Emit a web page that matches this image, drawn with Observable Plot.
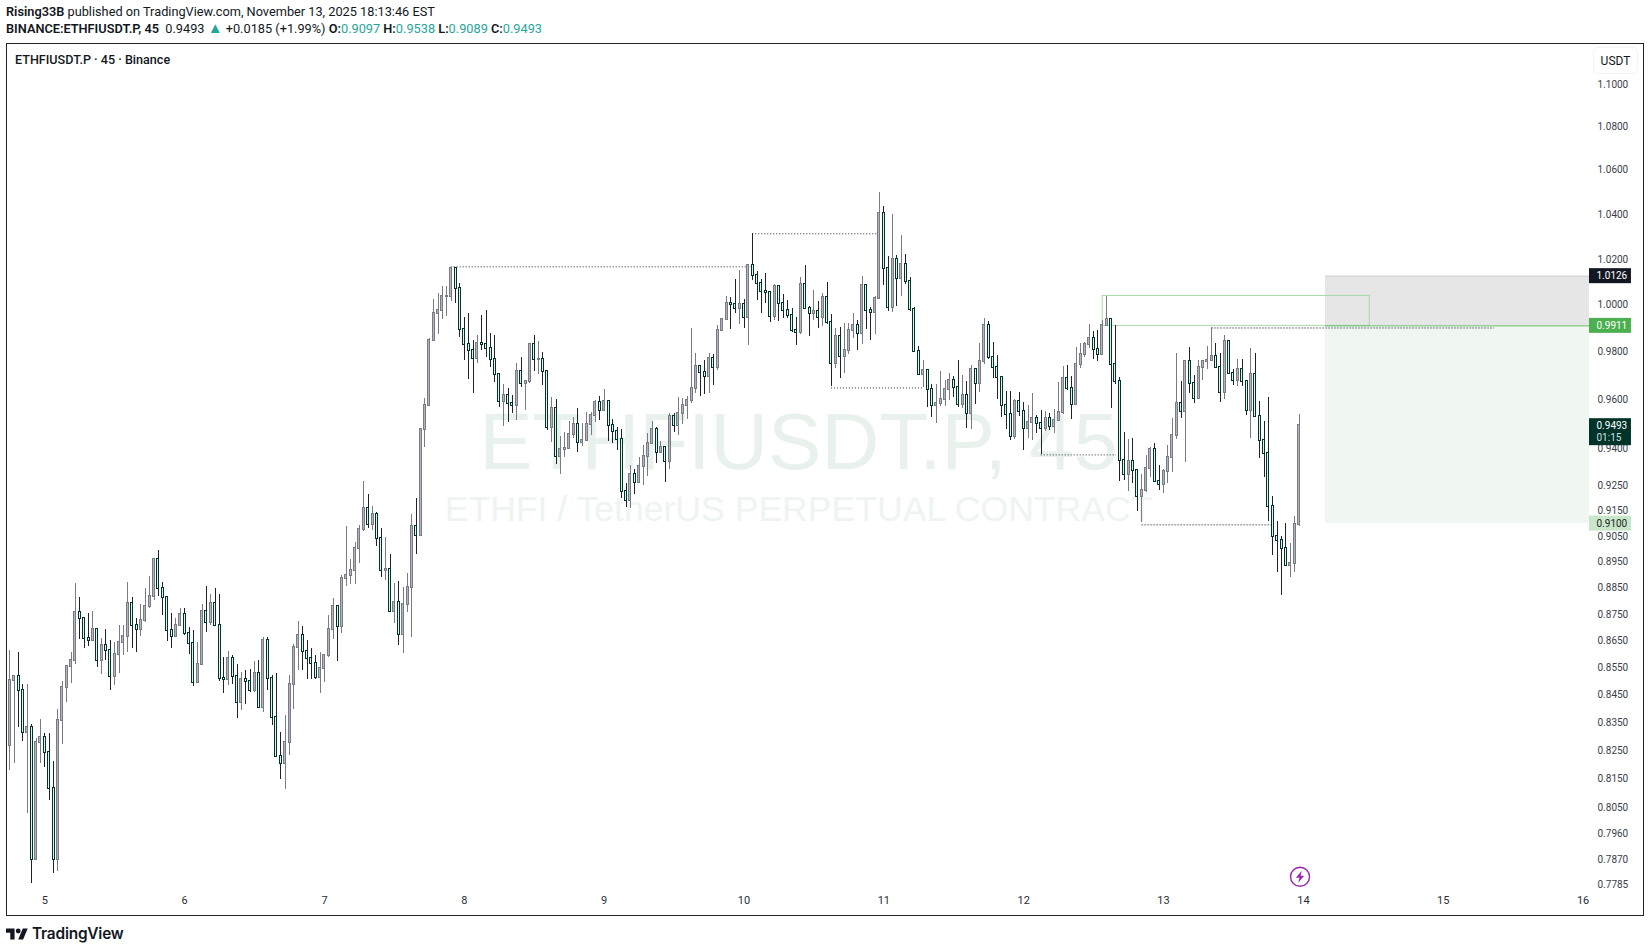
<!DOCTYPE html>
<html>
<head>
<meta charset="utf-8">
<script src="https://cdn.jsdelivr.net/npm/d3@7"></script>
<script src="https://cdn.jsdelivr.net/npm/@observablehq/plot@0.6"></script>
<style>
html,body{margin:0;padding:0;background:#fff;width:1650px;height:952px;overflow:hidden}
body{position:relative;font-family:Roboto,sans-serif;color:#131722}
.hd{position:absolute;left:6px;white-space:pre;font-size:12.75px;line-height:16px}
.hd b{font-weight:600}
.hd i{font-style:normal;color:#26a69a}
.hd u{text-decoration:none;color:#26a69a;font-size:15px;line-height:10px}
#chart{position:absolute;left:0;top:43px}
#frame{position:absolute;left:6px;top:43px;width:1636px;height:871px;border:1px solid #20232c;pointer-events:none}
#legend{position:absolute;left:15px;top:52px;font-size:12.6px;font-weight:500;white-space:pre}
#unit{position:absolute;left:1593px;top:47px;width:45px;height:27px;border:1px solid #f0f3fa;border-radius:5px;box-sizing:border-box;text-align:center;font:12px/26px Roboto,sans-serif;color:#131722;background:#fff}
#logo{position:absolute;left:6px;top:925px;height:17px;display:flex;align-items:center;gap:4px;font:600 15.4px Inter,sans-serif;color:#131722;letter-spacing:-.2px}
</style>
</head>
<body>
<div class="hd" style="top:4px"><b>Rising33B</b> published on TradingView.com, November 13, 2025 18:13:46 EST</div>
<div class="hd" style="top:21px"><b>BINANCE:ETHFIUSDT.P, 45</b>  0.9493 <u>▲</u> +0.0185 (+1.99%) <b>O:</b><i>0.9097</i> <b>H:</b><i>0.9538</i> <b>L:</b><i>0.9089</i> <b>C:</b><i>0.9493</i></div>
<div id="chart"></div>
<div id="frame"></div>
<div id="legend">ETHFIUSDT.P · 45 · Binance</div>
<div id="unit">USDT</div>
<div id="logo"><svg width="22" height="14" viewBox="0 3 36 20"><path fill="#131722" d="M14 22H7V11H0V4h14v18zM28 22h-8l7.5-18h8L28 22z"/><circle fill="#131722" cx="20" cy="8" r="4"/></svg><span>TradingView</span></div>
<script>
const firstOpen = 0.8270;
const closes = [
.8503,.8517,.8469,.8314,.8332,.7873,.8278,.8296,.8242,.8118,
.7873,.8357,.8480,.8554,.8576,.8756,.8733,.8661,.8654,.8692,
.8576,.8632,.8614,.8517,.8599,.8643,.8666,.8793,.8710,.8692,
.8729,.8782,.8820,.8959,.8850,.8816,.8688,.8666,.8710,.8748,
.8677,.8640,.8495,.8562,.8763,.8718,.8790,.8710,.8510,.8509,
.8584,.8517,.8422,.8506,.8499,.8469,.8528,.8407,.8651,.8510,
.8371,.8231,.8204,.8281,.8491,.8625,.8669,.8610,.8584,.8565,
.8516,.8547,.8595,.8692,.8782,.8703,.8885,.8900,.8916,.9001,
.9075,.9161,.9098,.9134,.9040,.8916,.8923,.8761,.8797,.8673,
.8786,.8854,.9090,.9055,.9476,.9575,.9849,.9962,.9975,1.0036,
1.0036,1.0158,1.0071,.9894,.9830,.9805,.9771,.9834,.9830,.9813,
.9767,.9704,.9591,.9616,.9583,.9575,.9716,.9666,.9674,.9830,
.9767,.9767,.9716,.9484,.9562,.9367,.9395,.9399,.9456,.9497,
.9423,.9431,.9497,.9534,.9587,.9554,.9591,.9492,.9468,.9435,
.9226,.9191,.9294,.9262,.9326,.9367,.9419,.9476,.9383,.9403,
.9346,.9529,.9492,.9542,.9575,.9596,.9645,.9737,.9712,.9695,
.9771,.9733,.9890,.9937,1.0006,1.0002,.9985,1.0002,.9946,1.0171,
1.0131,1.0093,1.0058,1.0057,.9950,1.0079,1.0006,.9976,.9954,.9891,
.9882,1.0088,.9985,.9963,.9972,.9946,1.0032,.9925,.9750,.9865,
.9780,.9805,.9891,.9912,.9878,1.0084,.9976,.9967,1.0028,1.0402,
1.0158,.9989,1.0198,1.0114,1.0176,1.0101,.9982,.9801,.9704,.9721,
.9641,.9575,.9583,.9600,.9641,.9679,.9650,.9579,.9616,.9542,
.9725,.9666,.9758,.9912,.9775,.9733,.9691,.9575,.9538,.9447,
.9592,.9550,.9481,.9505,.9522,.9501,.9481,.9522,.9489,.9513,
.9546,.9687,.9645,.9579,.9746,.9789,.9831,.9857,.9810,.9789,
.9912,.9937,.9746,.9674,.9350,.9294,.9346,.9310,.9206,.9230,
.9318,.9395,.9266,.9254,.9306,.9362,.9452,.9583,.9550,.9758,
.9666,.9604,.9733,.9758,.9763,.9780,.9733,.9629,.9844,.9708,
.9679,.9725,.9674,.9554,.9704,.9530,.9432,.9379,.9167,.9049,
.9033,.9003,.8937,.8945,.9096,.9493];
const highs = [
.8615,.8517,.8607,.8491,.8489,.8344,.8292,.8362,.8310,.8311,
.8212,.8398,.8500,.8556,.8607,.8866,.8815,.8733,.8753,.8761,
.8692,.8658,.8695,.8654,.8645,.8708,.8708,.8870,.8815,.8736,
.8786,.8848,.8896,.8963,.8995,.8873,.8816,.8753,.8736,.8771,
.8771,.8699,.8688,.8645,.8786,.8858,.8825,.8850,.8827,.8589,
.8610,.8595,.8562,.8535,.8540,.8546,.8574,.8576,.8662,.8662,
.8524,.8528,.8315,.8376,.8522,.8636,.8723,.8703,.8654,.8621,
.8596,.8607,.8599,.8745,.8809,.8782,.8900,.9088,.8962,.9025,
.9094,.9265,.9217,.9169,.9142,.9082,.9047,.8981,.8866,.8874,
.8854,.8908,.9134,.9201,.9480,.9604,.9857,1.0023,1.0049,1.0079,
1.0079,1.0166,1.0153,1.0092,.9945,.9962,.9849,.9868,.9954,.9979,
.9877,.9868,.9708,.9662,.9645,.9616,.9750,.9775,.9678,.9834,
.9868,.9843,.9796,.9712,.9608,.9600,.9449,.9464,.9509,.9528,
.9562,.9501,.9546,.9546,.9596,.9614,.9641,.9597,.9517,.9484,
.9476,.9258,.9332,.9316,.9362,.9411,.9460,.9509,.9484,.9427,
.9406,.9542,.9542,.9608,.9604,.9612,.9898,.9792,.9739,.9764,
.9792,.9789,.9911,.9942,1.0036,1.0034,1.0111,1.0151,1.0023,1.0176,
1.0313,1.0145,1.0110,1.0136,1.0054,1.0088,1.0078,1.0045,1.0019,.9985,
.9946,1.0119,1.0173,.9993,1.0062,1.0015,1.0049,1.0097,.9959,.9899,
.9903,.9920,.9920,.9963,.9933,1.0123,1.0084,.9989,1.0036,1.0497,
1.0434,1.0211,1.0397,1.0216,1.0304,1.0220,1.0119,.9989,.9822,.9763,
.9725,.9662,.9662,.9716,.9680,.9708,.9695,.9763,.9700,.9675,
.9742,.9729,.9835,.9942,.9929,.9839,.9785,.9695,.9633,.9633,
.9600,.9629,.9588,.9575,.9625,.9534,.9554,.9550,.9542,.9559,
.9670,.9737,.9742,.9695,.9818,.9835,.9839,.9916,.9885,.9892,
.9936,1.0037,.9942,.9912,.9694,.9465,.9436,.9440,.9310,.9294,
.9372,.9403,.9420,.9330,.9314,.9411,.9522,.9793,.9674,.9758,
.9818,.9700,.9763,.9760,.9822,.9903,.9835,.9793,.9869,.9844,
.9725,.9767,.9767,.9674,.9814,.9793,.9592,.9509,.9608,.9206,
.9108,.9049,.9100,.9022,.9127,.9538];
const lows = [
.8181,.8205,.8334,.8284,.8030,.7792,.7870,.8205,.8190,.8074,
.7825,.7831,.8272,.8423,.8492,.8564,.8657,.8622,.8630,.8650,
.8553,.8526,.8578,.8467,.8485,.8528,.8596,.8607,.8622,.8607,
.8667,.8720,.8772,.8801,.8817,.8747,.8650,.8622,.8666,.8708,
.8671,.8600,.8483,.8495,.8562,.8682,.8709,.8709,.8502,.8457,
.8487,.8489,.8366,.8393,.8418,.8460,.8460,.8402,.8387,.8467,
.8340,.8227,.8148,.8113,.8233,.8398,.8540,.8540,.8507,.8507,
.8507,.8456,.8496,.8590,.8656,.8574,.8678,.8855,.8863,.8863,
.8944,.9068,.9079,.9072,.9010,.8890,.8879,.8757,.8715,.8633,
.8604,.8757,.8663,.8978,.9050,.9406,.9571,.9849,.9876,.9938,
.9951,1.0017,1.0009,.9862,.9764,.9684,.9625,.9750,.9806,.9778,
.9736,.9670,.9568,.9490,.9506,.9542,.9514,.9652,.9556,.9666,
.9718,.9705,.9659,.9473,.9425,.9336,.9296,.9363,.9395,.9440,
.9384,.9407,.9427,.9452,.9506,.9513,.9551,.9427,.9419,.9392,
.9198,.9163,.9159,.9216,.9258,.9250,.9286,.9419,.9338,.9380,
.9263,.9316,.9465,.9452,.9499,.9517,.9583,.9625,.9614,.9620,
.9625,.9659,.9722,.9885,.9935,.9896,.9963,.9918,.9900,.9828,
1.0107,1.0021,.9964,1.0006,.9926,.9933,.9929,.9942,.9942,.9881,
.9828,.9875,.9981,.9867,.9933,.9900,.9909,.9917,.9654,.9729,
.9688,.9708,.9790,.9856,.9805,.9832,.9895,.9849,.9875,1.0024,
1.0084,.9972,.9967,.9995,1.0038,1.0090,.9973,.9798,.9701,.9650,
.9568,.9527,.9502,.9572,.9572,.9597,.9608,.9567,.9564,.9482,
.9478,.9581,.9630,.9747,.9767,.9687,.9601,.9526,.9479,.9431,
.9436,.9531,.9393,.9442,.9432,.9460,.9375,.9469,.9473,.9460,
.9509,.9538,.9637,.9518,.9578,.9729,.9776,.9815,.9767,.9758,
.9785,.9912,.9563,.9662,.9266,.9271,.9229,.9258,.9147,.9104,
.9223,.9282,.9264,.9231,.9219,.9258,.9302,.9436,.9522,.9345,
.9625,.9583,.9604,.9680,.9725,.9763,.9733,.9590,.9600,.9704,
.9658,.9654,.9654,.9535,.9439,.9528,.9358,.9282,.9107,.8976,
.8909,.8823,.8935,.8891,.8911,.9089];

const priceTicks = [1.1,1.08,1.06,1.04,1.02,1,.98,.96,.94,.925,.915,.905,.895,.885,.875,.865,.855,.845,.835,.825,.815,.805,.796,.787,.7785];
const dayTicks = [5,6,7,8,9,10,11,12,13,14,15,16];

// horizontal levels: day of month (fractional) and price
const dottedLevels = [
  {from:7.906, to:10.0625, price:1.0167},
  {from:10.0625, to:10.969, price:1.0313},
  {from:10.625, to:11.281, price:.9649},
  {from:12.125, to:12.664, price:.9374}
];
const dashedLevels = [
  {from:12.844, to:13.781, price:.9095},
  {from:13.344, to:15.367, price:.9902}
];
const stopPrice = 1.0126, entryPrice = .9911, targetPrice = .91, lastPrice = .9493;
const zoneFrom = 14.158, viewEnd = 16.046, viewStart = 4.7261, tagEnd = 16.346;
const boxFrom = 12.565, boxTo = 14.475, boxTop = 1.004;
const alertDay = 14, alertPrice = .7813;

const DAY = 864e5, BAR = 45 * 60000;
const day = d => Date.UTC(2025, 10, 1) + (d - 1) * DAY;
const bars = closes.map((c, i) => {
  const o = i ? closes[i - 1] : firstOpen;
  return {t: new Date(day(5) + (i - 8) * BAR), o, c, h: highs[i], l: lows[i], up: c >= o};
});
const half = 10.3 * 60000;
const upBars = bars.filter(b => b.up), dnBars = bars.filter(b => !b.up);
const d = x => new Date(day(x));
const tagRatio = px => Math.exp(px / 2316);
const tags = [
  {p: stopPrice, top: 7.5, bot: 7.5, bg: "#131722", fg: "#fff", w: 700},
  {p: entryPrice, top: 7.5, bot: 7.5, bg: "#4caf50", fg: "#fff", w: 700},
  {p: targetPrice, top: 7.5, bot: 7.5, bg: "#c8e6c9", fg: "#222", w: 400},
  {p: lastPrice, top: 7, bot: 20, bg: "#00332a", fg: "#fff", w: 700}
];
const bolt = {draw(c) {
  c.moveTo(1.8, -6); c.lineTo(-4.2, 1); c.lineTo(-0.6, 1); c.lineTo(-1.8, 6);
  c.lineTo(4.2, -1); c.lineTo(0.6, -1); c.closePath();
}};

const chart = Plot.plot({
  width: 1650, height: 872,
  marginLeft: 6, marginRight: 61, marginTop: 0, marginBottom: 28,
  x: {type: "utc", domain: [d(viewStart), d(viewEnd)]},
  y: {type: "log", domain: [.7777, 1.1196]},
  style: {background: "#fff", fontFamily: "Roboto, sans-serif", overflow: "visible"},
  marks: [
    Plot.text(["ETHFIUSDT.P, 45"], {x: () => d(10.39), y: () => .9419, text: d => d, fontSize: 80, fontFamily: "Liberation Sans", fill: "#e8f1ec"}),
    Plot.text(["ETHFI / TetherUS PERPETUAL CONTRACT"], {x: () => d(10.39), y: () => .9155, text: d => d, fontSize: 35.6, fontFamily: "Liberation Sans", fill: "#eef4f0"}),
    Plot.rect([0], {x1: () => d(zoneFrom), x2: () => d(viewEnd), y1: () => entryPrice, y2: () => stopPrice, fill: "#e6e6e6"}),
    Plot.rect([0], {x1: () => d(zoneFrom), x2: () => d(viewEnd), y1: () => targetPrice, y2: () => entryPrice, fill: "#f0f7f0"}),
    Plot.ruleY([stopPrice], {x1: () => d(zoneFrom), x2: () => d(viewEnd), stroke: "#cfcfcf"}),
    Plot.rect([0], {x1: () => d(boxFrom), x2: () => d(boxTo), y1: () => entryPrice, y2: () => boxTop, fill: "none", stroke: "#a5d6a7", strokeOpacity: .95}),
    Plot.ruleY([entryPrice], {x1: () => d(zoneFrom), x2: () => d(viewEnd), stroke: "#66bb6a"}),
    Plot.ruleY(dottedLevels, {x1: l => d(l.from), x2: l => d(l.to), y: "price", stroke: "#2a2e39", strokeDasharray: "1 2", strokeWidth: 1}),
    Plot.ruleY(dashedLevels, {x1: l => d(l.from), x2: l => d(l.to), y: "price", stroke: "#787b86", strokeDasharray: "2 1", strokeWidth: 1}),
    Plot.ruleX(upBars, {x: "t", y1: "l", y2: "h", stroke: "#787b86", strokeWidth: 1, shapeRendering: "crispEdges"}),
    Plot.ruleX(dnBars, {x: "t", y1: "l", y2: "h", stroke: "#1e222d", strokeWidth: 1, shapeRendering: "crispEdges"}),
    Plot.rect(upBars, {x1: b => new Date(+b.t - half), x2: b => new Date(+b.t + half), y1: "o", y2: "c", fill: "#b2b5be", stroke: "#787b86", strokeWidth: 1, insetTop: -.5, insetBottom: -.5, shapeRendering: "crispEdges"}),
    Plot.rect(dnBars, {x1: b => new Date(+b.t - half), x2: b => new Date(+b.t + half), y1: "o", y2: "c", fill: "#e4f1ed", stroke: "#00332a", strokeWidth: 1, insetTop: -.5, insetBottom: -.5, shapeRendering: "crispEdges"}),
    Plot.axisX(dayTicks.map(d), {anchor: "bottom", tickSize: 0, tickPadding: 9, tickFormat: t => String(t.getUTCDate()), fontSize: 11, fill: "#2a2e39", label: null}),
    Plot.axisY(priceTicks, {anchor: "right", tickSize: 0, tickPadding: 8, tickFormat: v => v.toFixed(4), fontSize: 10, fill: "#3a3e49", label: null}),
    Plot.rect(tags, {x1: () => d(viewEnd), x2: () => d(tagEnd), y1: t => t.p / tagRatio(t.bot), y2: t => t.p * tagRatio(t.top), fill: "bg"}),
    Plot.text(tags, {x: () => d(viewEnd), y: "p", dx: 7, text: t => t.p.toFixed(4), textAnchor: "start", fill: "fg", fontWeight: "w", fontSize: 10}),
    Plot.text(["01:15"], {x: () => d(viewEnd), y: () => lastPrice, dx: 7, dy: 12, text: s => s, textAnchor: "start", fill: "#cfe0dc", fontSize: 10}),
    Plot.dot([0], {x: () => d(alertDay - .024), y: () => alertPrice, r: 9.5, stroke: "#9c27b0", strokeWidth: 1.4, fill: "#fff"}),
    Plot.dot([0], {x: () => d(alertDay - .024), y: () => alertPrice, symbol: bolt, fill: "#9c27b0"})
  ]
});
document.getElementById("chart").append(chart);
</script>
</body>
</html>
